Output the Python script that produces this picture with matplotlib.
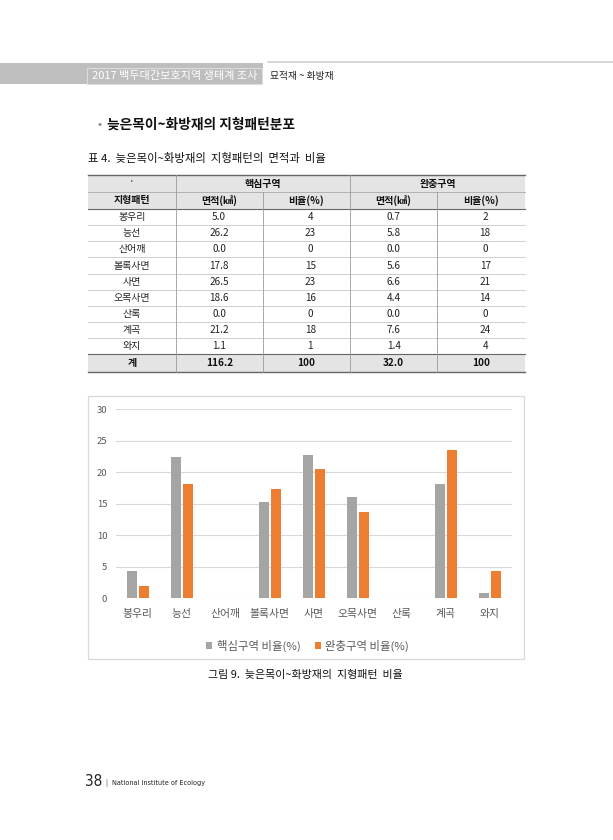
import numpy as np
import matplotlib
matplotlib.use('Agg')
import matplotlib.pyplot as plt
from matplotlib.patches import Rectangle

plt.rcParams['font.family'] = ['Noto Sans CJK KR', 'DejaVu Sans']

# table data
terrain = ['봉우리', '능선', '산어깨', '볼록사면', '사면', '오목사면', '산록', '계곡', '와지']
core_area = ['5.0', '26.2', '0.0', '17.8', '26.5', '18.6', '0.0', '21.2', '1.1']
core_ratio = ['4', '23', '0', '15', '23', '16', '0', '18', '1']
buffer_area = ['0.7', '5.8', '0.0', '5.6', '6.6', '4.4', '0.0', '7.6', '1.4']
buffer_ratio = ['2', '18', '0', '17', '21', '14', '0', '24', '4']
total_row = ['계', '116.2', '100', '32.0', '100']

# chart data
core_pct = [4.3, 22.5, 0.0, 15.3, 22.7, 16.0, 0.0, 18.2, 0.9]
buffer_pct = [1.9, 18.1, 0.0, 17.3, 20.6, 13.7, 0.0, 23.6, 4.3]

GRAY = '#A5A5A5'
ORANGE = '#ED7D31'
TXT = '#595959'

fig = plt.figure(figsize=(6.13, 8.40), dpi=100)
page = fig.add_axes([0, 0, 1, 1])
page.set_xlim(0, 613)
page.set_ylim(840, 0)
page.axis('off')

# running header
page.add_patch(Rectangle((0, 63.3), 263, 21, facecolor='#BEBEBE', edgecolor='none'))
page.add_patch(Rectangle((87, 67.7), 175, 16.6, facecolor='#BEBEBE', edgecolor='#DCDCDC', lw=0.8))
page.plot([268, 613], [62.3, 62.3], color='#CFCFCF', lw=1.2)
page.text(174.5, 76.5, '2017 백두대간보호지역 생태계 조사', color='white', fontsize=8,
          ha='center', va='center')
page.text(270, 76.5, '묘적재 ~ 화방재', color='#222222', fontsize=7, ha='left', va='center')

# section title
page.text(98, 125, '•', color='#888888', fontsize=9, ha='left', va='center')
page.text(107, 125, '늦은목이~화방재의 지형패턴분포', color='#111111', fontsize=9.9,
          ha='left', va='center', fontweight='bold')

# table caption
page.text(88, 158, '표 4.  늦은목이~화방재의  지형패턴의  면적과  비율', color='#111111',
          fontsize=8.2, ha='left', va='center')

# table
col_x = [88, 175.7, 262.7, 350, 437.3, 525]
row_h = 16.15
y0, y1, y2 = 175, 192, 209
data_top = y2
tot_top = data_top + row_h * len(terrain)
tot_bot = tot_top + 17.2

page.add_patch(Rectangle((88, y0), 437, y2 - y0, facecolor='#E4E4E4', edgecolor='none'))
page.add_patch(Rectangle((88, tot_top), 437, tot_bot - tot_top, facecolor='#E4E4E4', edgecolor='none'))

page.plot([88, 525], [y0, y0], color='#666666', lw=1.0)
page.plot([88, 525], [y1, y1], color='#AAAAAA', lw=0.6)
page.plot([88, 525], [y2, y2], color='#666666', lw=0.8)
for i in range(1, len(terrain)):
    yy = data_top + row_h * i
    page.plot([88, 525], [yy, yy], color='#C8C8C8', lw=0.6)
page.plot([88, 525], [tot_top, tot_top], color='#666666', lw=0.8)
page.plot([88, 525], [tot_bot, tot_bot], color='#666666', lw=1.0)

for x in [col_x[1], col_x[3]]:
    page.plot([x, x], [y0, tot_bot], color='#9A9A9A', lw=0.6)
for x in [col_x[2], col_x[4]]:
    page.plot([x, x], [y1, tot_bot], color='#9A9A9A', lw=0.6)

centers = [(col_x[i] + col_x[i + 1]) / 2 for i in range(5)]
fs_tab = 7.2
page.text(centers[0], (y0 + y1) / 2 - 2, '·', fontsize=fs_tab, ha='center', va='center', color='#333333')
page.text((col_x[1] + col_x[3]) / 2, (y0 + y1) / 2, '핵심구역', fontsize=fs_tab, ha='center',
          va='center', fontweight='bold', color='#111111')
page.text((col_x[3] + col_x[5]) / 2, (y0 + y1) / 2, '완충구역', fontsize=fs_tab, ha='center',
          va='center', fontweight='bold', color='#111111')
sub_head = ['지형패턴', '면적(㎢)', '비율(%)', '면적(㎢)', '비율(%)']
for c, s in zip(centers, sub_head):
    page.text(c, (y1 + y2) / 2, s, fontsize=fs_tab, ha='center', va='center',
              fontweight='bold', color='#111111')

for i, name in enumerate(terrain):
    yc = data_top + row_h * (i + 0.5)
    vals = [name, core_area[i], core_ratio[i], buffer_area[i], buffer_ratio[i]]
    for j, v in enumerate(vals):
        dx = 4 if j in (2, 4) else 0
        page.text(centers[j] + dx, yc, v, fontsize=fs_tab, ha='center', va='center', color='#222222')

for j, v in enumerate(total_row):
    page.text(centers[j], (tot_top + tot_bot) / 2, v, fontsize=fs_tab, ha='center', va='center',
              fontweight='bold', color='#111111')

# chart frame
page.add_patch(Rectangle((88, 396), 436, 263, facecolor='white', edgecolor='#D9D9D9', lw=0.9))

ax = fig.add_axes([115.7 / 613, 1 - 598.3 / 840, 396 / 613, 189 / 840])
x = np.arange(len(terrain))
w = 0.225
ax.bar(x - 0.135, core_pct, width=w, color=GRAY, label='핵심구역 비율(%)', zorder=3)
ax.bar(x + 0.135, buffer_pct, width=w, color=ORANGE, label='완충구역 비율(%)', zorder=3)
ax.set_xlim(-0.5, len(terrain) - 0.5)
ax.set_ylim(0, 30)
ax.set_yticks(range(0, 31, 5))
ax.grid(axis='y', color='#D9D9D9', lw=0.8, zorder=0)
for sp in ax.spines.values():
    sp.set_visible(False)
ax.tick_params(axis='both', length=0, colors=TXT)
ax.tick_params(axis='y', labelsize=6.8, pad=6)
ax.tick_params(axis='x', labelsize=7.8, pad=8)
ax.set_xticks(x)
ax.set_xticklabels(terrain)
ax.set_facecolor('none')
leg = ax.legend(loc='upper center', bbox_to_anchor=(0.485, -0.165), ncol=2, frameon=False,
                fontsize=8.2, handlelength=0.5, handleheight=0.5, handletextpad=0.4,
                columnspacing=1.3, labelcolor=TXT)

# figure caption
page.text(305, 675, '그림 9.  늦은목이~화방재의  지형패턴  비율', color='#111111', fontsize=7.9,
          ha='center', va='center')

# footer
page.text(85, 782, '38', fontsize=11, ha='left', va='center', color='#222222',
          family=['Liberation Sans Narrow', 'DejaVu Sans'], fontstretch='condensed')
page.text(105, 783, '|', fontsize=5, ha='left', va='center', color='#444444')
page.text(112, 783, 'National Institute of Ecology', fontsize=5.2, ha='left', va='center',
          color='#222222', family=['Liberation Sans Narrow', 'DejaVu Sans'], fontstretch='condensed')

fig.savefig('out.png', dpi=100)
